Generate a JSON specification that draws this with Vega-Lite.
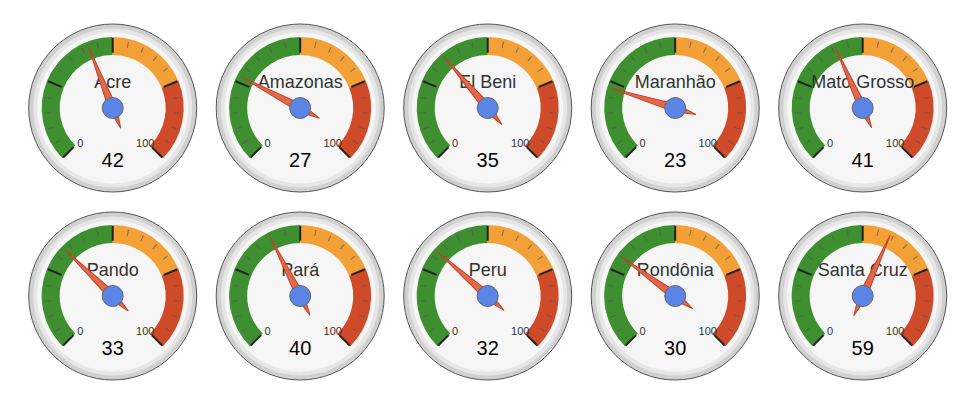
{
  "$schema": "https://vega.github.io/schema/vega-lite/v6.json",
  "padding": {"left": 22.7, "top": 18, "right": 0, "bottom": 0},
  "data": {"values": [
    {"name": "Acre", "value": 42},
    {"name": "Amazonas", "value": 27},
    {"name": "El Beni", "value": 35},
    {"name": "Maranhão", "value": 23},
    {"name": "Mato Grosso", "value": 41},
    {"name": "Pando", "value": 33},
    {"name": "Pará", "value": 40},
    {"name": "Peru", "value": 32},
    {"name": "Rondônia", "value": 30},
    {"name": "Santa Cruz", "value": 59}
  ]},
  "facet": {"field": "name", "type": "nominal", "title": null,
    "sort": ["Acre", "Amazonas", "El Beni", "Maranhão", "Mato Grosso", "Pando", "Pará", "Peru", "Rondônia", "Santa Cruz"],
    "header": {"labels": false, "title": null, "labelExpr": "''", "labelFontSize": 0, "labelPadding": 0}},
  "columns": 5,
  "spacing": {"row": 8, "column": 7.5},
  "spec": {
    "width": 180,
    "height": 180,
    "layer": [
      {"mark": {"type": "point", "shape": "circle", "filled": true, "size": 28224, "fill": "#d0d0d0", "stroke": "#555555", "strokeWidth": 1, "opacity": 1}, "encoding": {}},
      {"mark": {"type": "point", "shape": "circle", "filled": true, "size": 25281, "fill": "#e6e6e6", "strokeWidth": 0, "opacity": 1}, "encoding": {}},
      {"mark": {"type": "point", "shape": "circle", "filled": true, "size": 22801, "fill": "#f6f6f6", "strokeWidth": 0, "opacity": 1}, "encoding": {}},
      {
        "data": {"values": [
          {"from": 0, "to": 50, "zone": "green"},
          {"from": 50, "to": 75, "zone": "yellow"},
          {"from": 75, "to": 100, "zone": "red"}
        ]},
        "mark": {"type": "arc", "radius": 71, "radius2": 53},
        "encoding": {
          "theta": {"field": "from", "type": "quantitative", "stack": null, "scale": {"domain": [0, 100], "range": [-2.35619, 2.35619]}},
          "theta2": {"field": "to"},
          "color": {"field": "zone", "type": "nominal", "legend": null,
            "scale": {"domain": ["green", "yellow", "red"], "range": ["#3d8f2f", "#f3a037", "#cf4a28"]}}
        }
      },
      {
        "data": {"values": [
          {"v": 5}, {"v": 10}, {"v": 15}, {"v": 20}, {"v": 30}, {"v": 35}, {"v": 40}, {"v": 45},
          {"v": 55}, {"v": 60}, {"v": 65}, {"v": 70}, {"v": 80}, {"v": 85}, {"v": 90}, {"v": 95}
        ]},
        "mark": {"type": "point", "shape": "M0,-0.97L0,-0.885", "size": 19600, "filled": false, "stroke": "#555555", "strokeOpacity": 0.7, "strokeWidth": 1, "opacity": 1},
        "encoding": {
          "angle": {"field": "v", "type": "quantitative", "scale": {"domain": [0, 100], "range": [-135, 135]}}
        }
      },
      {
        "data": {"values": [{"v": 0}, {"v": 25}, {"v": 50}, {"v": 75}, {"v": 100}]},
        "mark": {"type": "point", "shape": "M0,-1L0,-0.79", "size": 19600, "filled": false, "stroke": "#222222", "strokeWidth": 2, "opacity": 1},
        "encoding": {
          "angle": {"field": "v", "type": "quantitative", "scale": {"domain": [0, 100], "range": [-135, 135]}}
        }
      },
      {
        "data": {"values": [{"v": 0}, {"v": 100}]},
        "mark": {"type": "text", "radius": 46, "dy": 3, "fontSize": 11, "font": "Liberation Sans", "fill": "#333333", "align": "center", "baseline": "middle"},
        "encoding": {
          "theta": {"field": "v", "type": "quantitative", "stack": null, "scale": {"domain": [0, 100], "range": [-2.35619, 2.35619]}},
          "text": {"field": "v", "type": "quantitative"}
        }
      },
      {
        "mark": {"type": "text", "dy": -25, "fontSize": 18, "font": "Liberation Sans", "fill": "#333333", "align": "center", "baseline": "middle"},
        "encoding": {"text": {"field": "name", "type": "nominal"}}
      },
      {
        "mark": {"type": "text", "dy": 53, "fontSize": 20, "font": "Liberation Sans", "fill": "#000000", "align": "center", "baseline": "middle"},
        "encoding": {"text": {"field": "value", "type": "quantitative"}}
      },
      {
        "mark": {"type": "point", "shape": "M-0.058,0L0,-0.95L0.058,0L0,0.31Z", "size": 19600, "filled": true, "fill": "#e2684a", "stroke": "#c2412a", "strokeWidth": 1, "opacity": 1},
        "encoding": {
          "angle": {"field": "value", "type": "quantitative", "scale": {"domain": [0, 100], "range": [-135, 135]}}
        }
      },
      {"mark": {"type": "point", "shape": "circle", "filled": true, "size": 441, "fill": "#5a84e6", "stroke": "#666666", "strokeWidth": 1, "opacity": 1}, "encoding": {}}
    ]
  },
  "config": {"view": {"stroke": null}}
}
